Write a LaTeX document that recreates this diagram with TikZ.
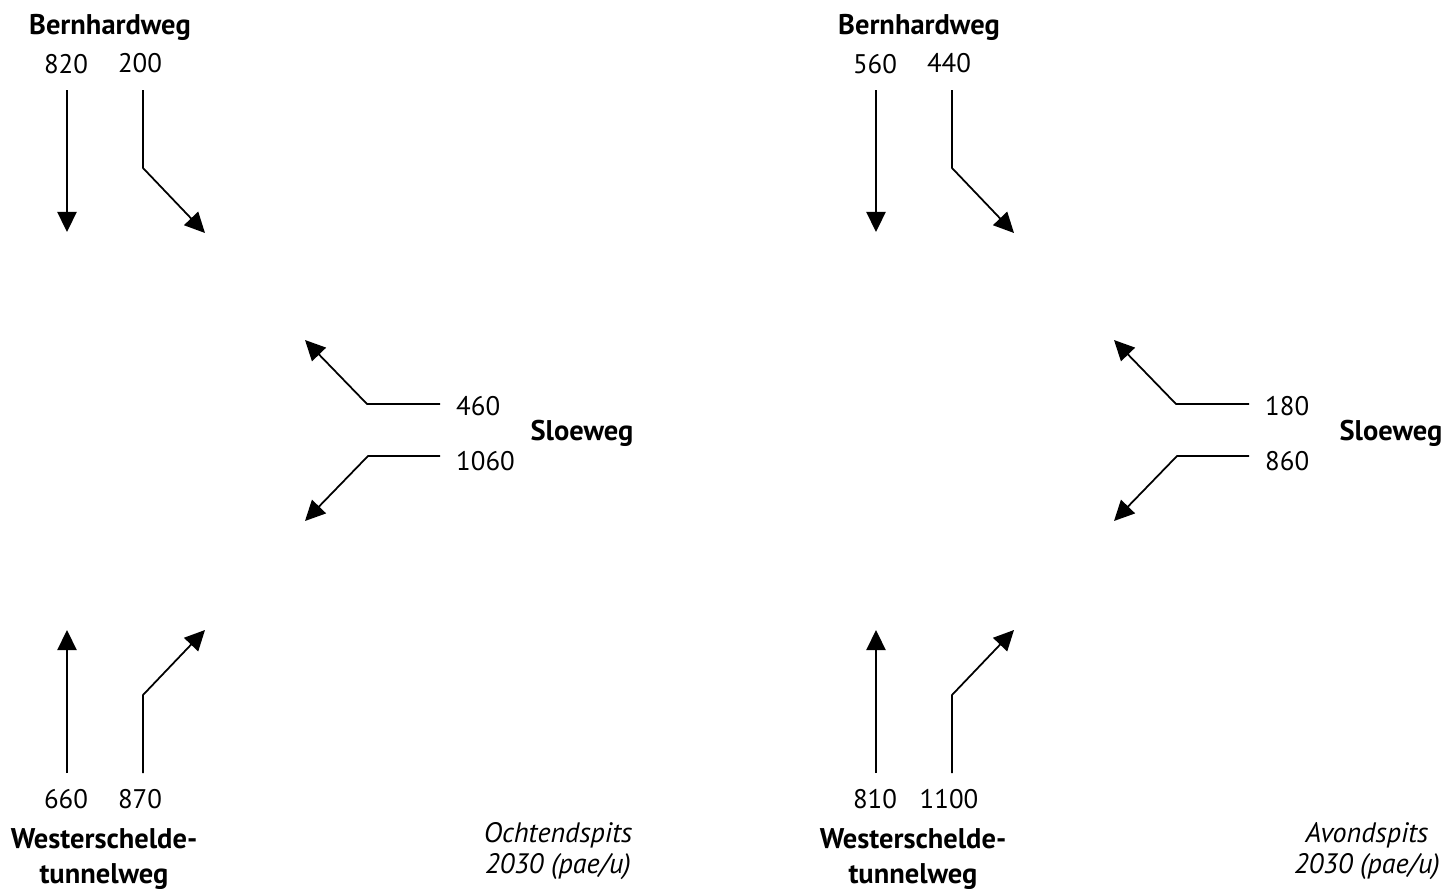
\documentclass[tikz,border=0pt]{standalone}
\usepackage{fontspec}
\setmainfont{PT Sans}
\usetikzlibrary{arrows.meta}

\tikzset{
  stroom/.style={-{Triangle[length=11.5pt,width=11pt]}, line width=1pt},
  weg/.style={font=\bfseries\fontsize{16.2}{20}\selectfont, align=center},
  getal/.style={font=\fontsize{15.3}{18}\selectfont},
  periode/.style={font=\itshape\fontsize{16}{17.5}\selectfont, align=center},
}

\begin{document}
\begin{tikzpicture}[x=0.02cm, y=-0.02cm]
  \useasboundingbox (0,0) rectangle (1447,889);

  % Two junctions: morning and evening peak
  \foreach \dx/\nl/\nr/\ob/\oo/\zl/\zr/\per in
      {0/820/200/460/1060/660/870/Ochtendspits,
       809/560/440/180/860/810/1100/Avondspits}{
    \begin{scope}[shift={(\dx,0)}]

      % Bernhardweg (north)
      \node[weg] (noord) at (110,27) {Bernhardweg};
      \node[getal] (nl) at (66,64) {\nl};
      \node[getal] (nr) at (140,63) {\nr};
      \coordinate (nl-start) at (67,90);
      \coordinate (nl-eind) at (67,232);
      \coordinate (nr-start) at (143,90);
      \coordinate (nr-knik) at (143,168);
      \coordinate (nr-eind) at (205,233);
      \draw[stroom] (nl-start) -- (nl-eind);
      \draw[stroom] (nr-start) -- (nr-knik) -- (nr-eind);

      % Sloeweg (east)
      \node[weg] (oost) at (582,433) {Sloeweg};
      \node[getal, anchor=west] (ob) at (450,406) {\ob};
      \node[getal, anchor=west] (oo) at (450,461) {\oo};
      \coordinate (ob-start) at (440,404);
      \coordinate (ob-knik) at (367,404);
      \coordinate (ob-eind) at (305,340);
      \coordinate (oo-start) at (440,456);
      \coordinate (oo-knik) at (368,456);
      \coordinate (oo-eind) at (305,521);
      \draw[stroom] (ob-start) -- (ob-knik) -- (ob-eind);
      \draw[stroom] (oo-start) -- (oo-knik) -- (oo-eind);

      % Westerscheldetunnelweg (south)
      \node[weg] (zuid) at (104,859) {Westerschelde-\\tunnelweg};
      \node[getal] (zl) at (66,799) {\zl};
      \node[getal] (zr) at (140,799) {\zr};
      \coordinate (zl-start) at (67,773);
      \coordinate (zl-eind) at (67,630);
      \coordinate (zr-start) at (143,773);
      \coordinate (zr-knik) at (143,695);
      \coordinate (zr-eind) at (205,630);
      \draw[stroom] (zl-start) -- (zl-eind);
      \draw[stroom] (zr-start) -- (zr-knik) -- (zr-eind);

      % Period label
      \node[periode] (spits) at (558,851) {\per\\2030 (pae/u)};
    \end{scope}
  }
\end{tikzpicture}
\end{document}
